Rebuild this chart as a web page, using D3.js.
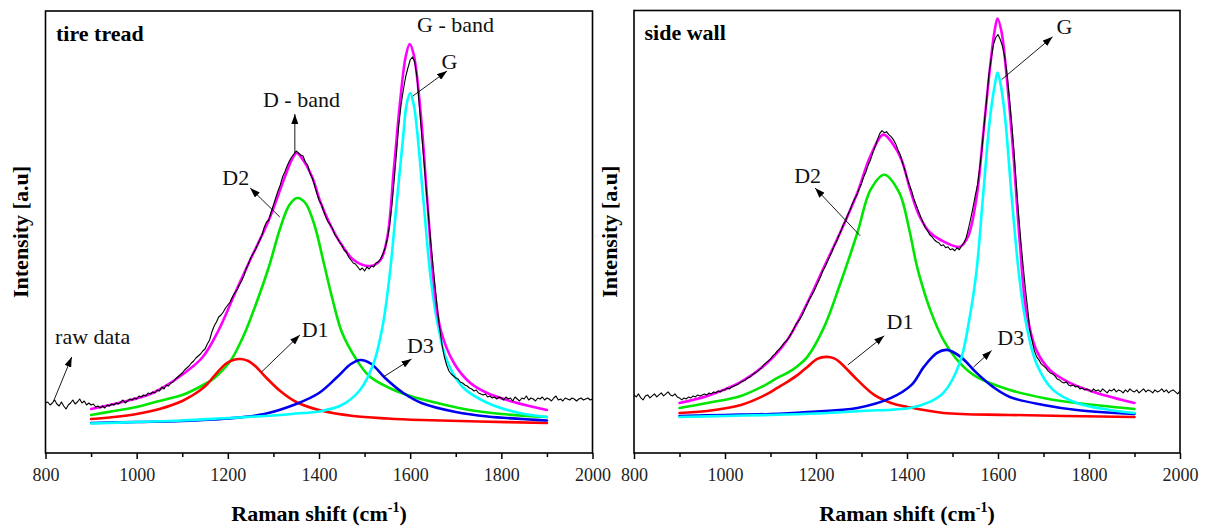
<!DOCTYPE html>
<html>
<head>
<meta charset="utf-8">
<script src="https://cdn.jsdelivr.net/npm/d3@7"></script>
<style>
  body { margin: 0; background: #fff; }
  svg { display: block; font-family: "Liberation Serif", "Times New Roman", serif; }
</style>
</head>
<body>
<svg id="chart" width="1207" height="526"></svg>
<script>
// ---- Raman spectra: raw data sampled every 5 cm-1 from 800 to 2000 (intensity, a.u.)
const rawStart = 800, rawStep = 5;

const treadRaw = [
  50,51,48,50,53,49,47,51,47,44,48,50,53,49,51,54,50,52,48,50,
  48,49,46,47,45,47,45,48,47,49,48,50,49,51,53,50,52,54,53,55,
  54,57,56,58,57,60,59,61,60,63,62,66,64,68,67,70,71,74,76,78,
  80,83,85,87,90,92,95,97,99,102,104,109,113,121,127,131,136,138,141,145,
  148,151,156,160,163,168,172,177,184,189,195,199,203,208,213,218,226,231,233,241,
  248,255,262,268,276,281,287,292,296,299,302,300,298,297,291,288,280,275,268,260,
  253,249,242,236,231,228,224,218,215,211,208,203,201,196,193,190,189,186,183,185,
  182,186,184,187,186,190,191,194,199,205,214,228,248,273,300,328,348,363,376,385,
  393,396,391,376,348,320,293,265,238,212,188,165,143,124,108,96,88,82,79,77,
  75,74,71,70,68,67,65,64,62,63,60,59,58,59,56,57,55,56,54,56,
  55,53,56,54,55,52,56,54,52,55,54,57,53,55,54,52,55,54,56,53,
  55,54,52,55,57,53,54,52,55,54,53,55,54,52,54,55,53,54,55,53,
  54
];

const wallRaw = [
  58,56,59,55,53,57,58,55,57,59,56,58,60,57,59,61,58,57,59,56,
  55,53,55,54,56,55,57,56,58,57,58,59,58,60,59,61,60,62,61,63,
  63,65,64,66,67,68,69,71,72,73,75,76,78,80,81,83,85,88,90,92,
  94,97,99,102,104,107,110,112,115,119,123,128,131,134,138,143,148,153,157,161,
  166,171,176,182,186,191,196,201,207,211,217,222,228,232,238,243,249,254,258,264,
  269,276,281,288,293,300,306,313,319,322,320,321,318,316,313,309,303,298,290,283,
  275,268,262,254,248,242,236,231,225,222,218,216,213,211,210,207,208,205,206,203,
  204,202,205,203,207,210,215,224,234,245,257,268,285,305,330,353,378,394,408,415,
  418,413,406,395,378,355,330,302,270,240,213,188,165,145,123,112,102,96,93,89,
  87,85,82,80,79,77,74,73,71,70,71,68,67,68,66,67,64,65,63,64,
  63,61,64,62,63,61,64,62,60,63,62,64,61,63,62,60,63,61,64,62,
  61,63,60,62,64,61,63,62,60,63,61,62,64,61,63,60,62,63,61,59,
  62
];

// ---- Fitted bands, [Raman shift, intensity]
const treadD1 = [[900,34],[950,36],[1000,39],[1050,44],[1100,52],[1120,57],[1140,63],[1155,69],[1170,77],[1195,89],[1212,93],[1228,94],[1245,92],[1260,87],[1285,75],[1315,62],[1350,51],[1400,43],[1475,37],[1550,34.5],[1625,33],[1750,31.5],[1900,30]];
const treadD2 = [[900,38],[950,42],[1000,46],[1050,52],[1100,58],[1125,63],[1150,69],[1165,73],[1180,79],[1195,86],[1210,95],[1225,108],[1240,123],[1265,153],[1290,186],[1315,225],[1335,248],[1352,255],[1370,250],[1390,228],[1410,191],[1430,153],[1450,121],[1480,95],[1510,77],[1550,66],[1600,57],[1660,50],[1730,43],[1800,39],[1900,36]];
const treadD3 = [[900,30],[1000,31],[1100,32],[1200,34.5],[1280,39],[1350,49],[1400,60],[1440,76],[1470,89],[1491,93],[1515,89],[1545,75],[1585,60],[1625,50],[1700,41],[1770,36.5],[1900,32.5]];
const treadG  = [[900,29.5],[1000,31],[1100,32.5],[1200,35],[1300,37.5],[1350,39.5],[1400,41.5],[1450,48],[1490,63],[1520,90],[1540,128],[1555,178],[1570,248],[1585,318],[1592,348],[1600,360],[1608,348],[1615,323],[1630,248],[1645,175],[1660,130],[1680,93],[1715,66],[1770,50],[1840,40],[1900,36]];
const treadSum = [[900,44],[960,50],[1035,60],[1105,80],[1145,96],[1180,123],[1215,159],[1250,194],[1290,233],[1325,276],[1340,293],[1351,300],[1362,295],[1385,276],[1403,251],[1425,228],[1447,210],[1476,193],[1513,187],[1535,193],[1550,216],[1564,283],[1579,356],[1590,396],[1599,409],[1608,398],[1623,340],[1637,256],[1652,170],[1667,123],[1696,90],[1732,70],[1769,60],[1827,51],[1900,43]];

const wallD1 = [[900,40],[961,42],[1035,48],[1093,59],[1115,65],[1137,71],[1160,78],[1181,86],[1203,94],[1222,96],[1240,94.5],[1254,90],[1291,73],[1328,58],[1365,50],[1401,46],[1480,40],[1626,38],[1900,36]];
const wallD2 = [[900,45],[961,50],[1035,57],[1093,69],[1115,75],[1137,80],[1160,87],[1181,96],[1218,126],[1254,170],[1291,220],[1320,263],[1350,278],[1383,260],[1405,223],[1420,190],[1428,176],[1451,143],[1480,113],[1516,90],[1553,76],[1626,63],[1700,55],[1773,50],[1900,44]];
const wallD3 = [[900,37],[1000,38],[1100,39],[1181,41],[1291,45],[1365,55],[1410,68],[1437,86],[1466,100],[1488,103],[1518,96],[1553,80],[1589,66],[1626,56],[1700,48],[1773,43],[1900,39]];
const wallG  = [[900,36],[1000,37],[1100,38],[1200,39.5],[1300,42],[1407,45],[1450,51],[1480,60],[1516,90],[1538,136],[1553,183],[1567,256],[1582,333],[1592,365],[1599,380],[1607,365],[1616,333],[1630,256],[1645,183],[1659,136],[1684,90],[1721,63],[1773,50],[1846,43],[1900,40]];
const wallSum = [[900,50],[961,57],[1035,71],[1093,90],[1137,113],[1181,150],[1218,186],[1254,221],[1291,260],[1320,297],[1348,318],[1370,308],[1388,293],[1407,263],[1428,236],[1451,220],[1473,213],[1516,206],[1534,216],[1553,256],[1567,316],[1582,383],[1593,423],[1599,434],[1608,420],[1619,376],[1633,303],[1648,210],[1662,143],[1684,103],[1714,83],[1758,70],[1817,60],[1900,50]];

// ---- Axis ticks
const shiftTicks = [800, 1000, 1200, 1400, 1600, 1800, 2000];
const minorTicks = [900, 1100, 1300, 1500, 1700, 1900];
const shiftDomain = [800, 2000];
const intensityDomain = [0, 442];

// ---- Band labels with pointer arrows, in data coordinates
const treadNotes = [
  { label: "G - band", pos: [1615, 421] },
  { label: "G", pos: [1669, 384], arrow: [1606, 357, 1681, 382] },
  { label: "D - band", pos: [1277, 346.5], arrow: [1347, 300, 1347, 339] },
  { label: "D2", pos: [1188, 268], arrow: [1314, 236, 1249, 265] },
  { label: "D1", pos: [1362, 116], arrow: [1274, 81, 1358, 118] },
  { label: "D3", pos: [1593, 100], arrow: [1541, 76, 1603, 94] },
  { label: "raw data", pos: [821, 109], arrow: [817, 51, 857.5, 96] }
];
const wallNotes = [
  { label: "G", pos: [1728.6, 418.7], arrow: [1608, 373, 1720, 415.7] },
  { label: "D2", pos: [1152, 269.7], arrow: [1297, 217, 1198, 264.7] },
  { label: "D1", pos: [1355, 123.7], arrow: [1270, 88, 1350, 117] },
  { label: "D3", pos: [1598.5, 108], arrow: [1546, 85.7, 1586, 102.3] }
];

const colors = { D2: "#00e600", D1: "#ff0000", D3: "#0000f0", G: "#00ffff", sum: "#ff00ff", raw: "#000000" };

const svg = d3.select("#chart");

svg.append("defs").append("marker")
  .attr("id", "head")
  .attr("viewBox", "0 0 10 7")
  .attr("refX", 10).attr("refY", 3.5)
  .attr("markerWidth", 10).attr("markerHeight", 7)
  .attr("markerUnits", "userSpaceOnUse")
  .attr("orient", "auto")
  .append("path").attr("d", "M0,0L10,3.5L0,7Z").attr("fill", "#000");

const panels = [
  { left: 45.5, right: 592.5, top: 11, bottom: 453, title: "tire tread", yTitleX: 28,
    raw: treadRaw, fits: [["D2", treadD2], ["D1", treadD1], ["D3", treadD3], ["G", treadG], ["sum", treadSum]],
    notes: treadNotes },
  { left: 634, right: 1180, top: 10.5, bottom: 453, title: "side wall", yTitleX: 617,
    raw: wallRaw, fits: [["D2", wallD2], ["D1", wallD1], ["D3", wallD3], ["G", wallG], ["sum", wallSum]],
    notes: wallNotes }
];

panels.forEach(p => {
  const x = d3.scaleLinear().domain(shiftDomain).range([p.left, p.right]);
  const y = d3.scaleLinear().domain(intensityDomain).range([p.bottom, p.top]);
  const g = svg.append("g");

  // fitted bands and their sum
  const fitLine = d3.line().x(d => x(d[0])).y(d => y(d[1])).curve(d3.curveCatmullRom.alpha(0.5));
  p.fits.forEach(([key, pts]) => {
    g.append("path").attr("d", fitLine(pts))
      .attr("fill", "none").attr("stroke", colors[key])
      .attr("stroke-width", 2.6).attr("stroke-linejoin", "round").attr("stroke-linecap", "round");
  });

  // raw spectrum
  const rawLine = d3.line().x((d, i) => x(rawStart + i * rawStep)).y(d => y(d));
  g.append("path").attr("d", rawLine(p.raw))
    .attr("fill", "none").attr("stroke", colors.raw).attr("stroke-width", 1.1)
    .attr("stroke-linejoin", "round");

  // frame
  g.append("rect")
    .attr("x", p.left).attr("y", p.top)
    .attr("width", p.right - p.left).attr("height", p.bottom - p.top)
    .attr("fill", "none").attr("stroke", "#000").attr("stroke-width", 1.6);

  // bottom axis
  const ax = g.append("g").attr("transform", `translate(0,${p.bottom})`)
    .call(d3.axisBottom(x).tickValues(shiftTicks).tickSize(6).tickSizeOuter(0).tickPadding(9).tickFormat(d3.format("d")));
  ax.select(".domain").remove();
  ax.selectAll("line").attr("stroke-width", 1.5);
  ax.selectAll("text").attr("font-family", "Liberation Serif, serif").attr("font-size", 18).attr("fill", "#222");
  const axm = g.append("g").attr("transform", `translate(0,${p.bottom})`)
    .call(d3.axisBottom(x).tickValues(minorTicks).tickSize(4).tickSizeOuter(0).tickFormat(""));
  axm.select(".domain").remove();
  axm.selectAll("line").attr("stroke-width", 1.5);

  // axis titles
  const xt = g.append("text")
    .attr("x", (p.left + p.right) / 2).attr("y", 521)
    .attr("text-anchor", "middle").attr("font-weight", "bold").attr("font-size", 22);
  xt.append("tspan").text("Raman shift (cm");
  xt.append("tspan").attr("font-size", 14).attr("dy", -9).text("-1");
  xt.append("tspan").attr("dy", 9).text(")");

  g.append("text")
    .attr("transform", `translate(${p.yTitleX},${(p.top + p.bottom) / 2}) rotate(-90)`)
    .attr("text-anchor", "middle").attr("font-weight", "bold").attr("font-size", 22)
    .text("Intensity [a.u]");

  // panel title
  g.append("text").attr("x", p.left + 10.5).attr("y", p.top + 29.5)
    .attr("font-weight", "bold").attr("font-size", 22).text(p.title);

  // band labels
  p.notes.forEach(n => {
    g.append("text").attr("x", x(n.pos[0])).attr("y", y(n.pos[1]))
      .attr("font-size", 22).attr("fill", "#111").text(n.label);
    if (n.arrow) {
      g.append("line")
        .attr("x1", x(n.arrow[0])).attr("y1", y(n.arrow[1]))
        .attr("x2", x(n.arrow[2])).attr("y2", y(n.arrow[3]))
        .attr("stroke", "#000").attr("stroke-width", 0.9)
        .attr("marker-end", "url(#head)");
    }
  });
});
</script>
</body>
</html>
